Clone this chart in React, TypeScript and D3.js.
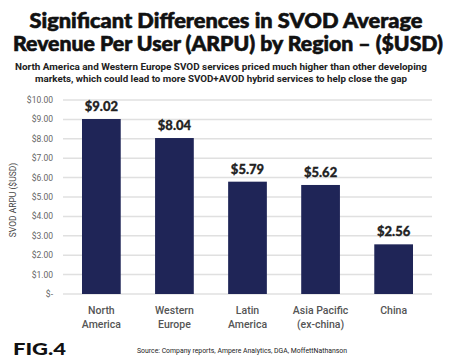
import * as d3 from 'd3';
import React from 'react';

const regions = [['North', 'America'], ['Western', 'Europe'], ['Latin', 'America'], ['Asia Pacific', '(ex-china)'], ['China']];
const arpu = [9.02, 8.04, 5.79, 5.62, 2.56];
const yTicks = [0, 1, 2, 3, 4, 5, 6, 7, 8, 9, 10];

const W = 450;
const H = 364;
const margin = { top: 100, right: 18, bottom: 70, left: 63 };

export default function App() {
  const keys = regions.map(r => r.join(' '));
  const x = d3.scaleBand<string>()
    .domain(keys)
    .range([margin.left, W - margin.right])
    .paddingInner(0.47)
    .paddingOuter(0.26);
  const y = d3.scaleLinear()
    .domain([0, 10])
    .range([H - margin.bottom, margin.top]);

  const fmt = (v: number) => (v === 0 ? '$-' : d3.format('$.2f')(v));
  const heavy = 'Lato, Roboto, sans-serif';

  return (
    <svg width={W} height={H} style={{ position: 'absolute', left: 0, top: 0, background: '#fff' }}>
      <g fontFamily={heavy} fontWeight={900} fill="#111" stroke="#111" strokeWidth={0.6} textAnchor="middle">
        <text x={226} y={28} fontSize={20} textLength={393} lengthAdjust="spacingAndGlyphs">Significant Differences in SVOD Average</text>
        <text x={228} y={51} fontSize={20} textLength={430} lengthAdjust="spacingAndGlyphs">Revenue Per User (ARPU) by Region – ($USD)</text>
      </g>
      <g fontFamily="Roboto, sans-serif" fontWeight={700} fill="#222" textAnchor="middle" fontSize={9.5}>
        <text x={221} y={70} textLength={412} lengthAdjust="spacingAndGlyphs">North America and Western Europe SVOD services priced much higher than other developing</text>
        <text x={221} y={82} textLength={372} lengthAdjust="spacingAndGlyphs">markets, which could lead to more SVOD+AVOD hybrid services to help close the gap</text>
      </g>

      {yTicks.map(t => (
        <g key={t}>
          <line x1={margin.left} x2={W - margin.right} y1={y(t)} y2={y(t)} stroke="#e0e0e0" strokeWidth={1.5} />
          <text x={53} y={y(t)} dy="0.35em" textAnchor="end" fontSize={8.5} fill="#666" fontFamily="Roboto, sans-serif">{fmt(t)}</text>
        </g>
      ))}

      <text transform={`translate(16,${y(5) + 3}) rotate(-90)`} textAnchor="middle" fontSize={8.5} fill="#444" fontFamily="Roboto, sans-serif">SVOD ARPU ($USD)</text>

      {keys.map((k, i) => (
        <g key={k}>
          <rect x={x(k)} y={y(arpu[i])} width={x.bandwidth()} height={y(0) - y(arpu[i])} fill="#1f2557" />
          <text x={x(k)! + x.bandwidth() / 2} y={y(arpu[i]) - 8} textAnchor="middle" fontSize={13} fontWeight={900} fill="#222" stroke="#222" strokeWidth={0.3} fontFamily={heavy}>{fmt(arpu[i])}</text>
          {regions[i].map((line, j) => (
            <text key={j} x={x(k)! + x.bandwidth() / 2} y={314 + j * 14} textAnchor="middle" fontSize={10.5} fontWeight={500} fill="#555" fontFamily="Roboto, sans-serif">{line}</text>
          ))}
        </g>
      ))}

      <text x={13} y={355} fontSize={17} fontWeight={900} fill="#111" fontFamily={heavy} textLength={53} lengthAdjust="spacingAndGlyphs">FIG.4</text>
      <text x={137} y={353} fontSize={6.5} fill="#222" fontFamily="Roboto, sans-serif" textLength={210} lengthAdjust="spacingAndGlyphs">Source: Company reports, Ampere Analytics, DGA, MoffettNathanson</text>
    </svg>
  );
}
